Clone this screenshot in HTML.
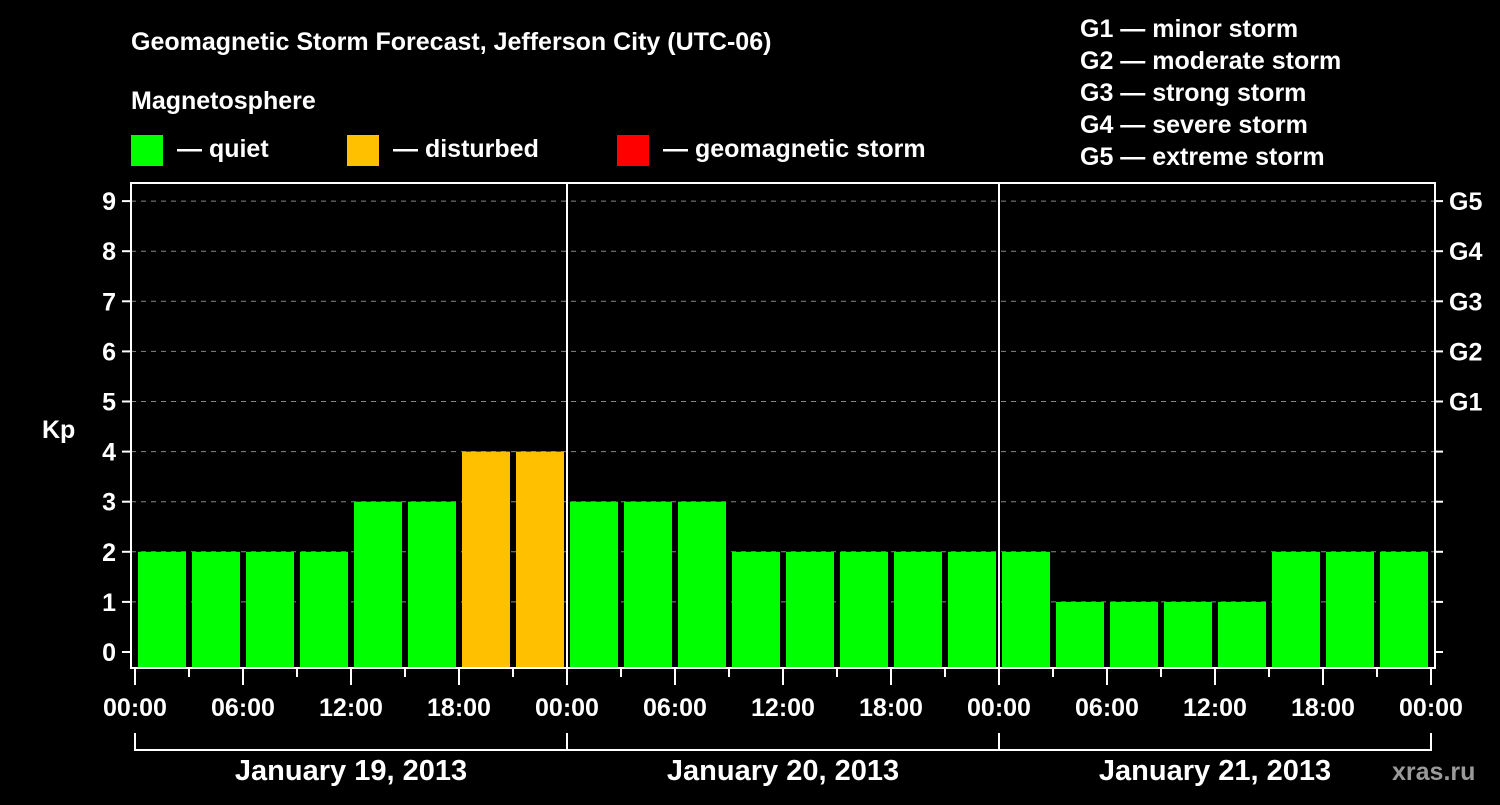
<!DOCTYPE html>
<html><head><meta charset="utf-8"><style>
body{margin:0;background:#000;width:1500px;height:800px;overflow:hidden}
svg text{font-family:"Liberation Sans",Arial,sans-serif;font-weight:bold;fill:#fff}
</style></head><body>
<svg id="c" width="1500" height="800" xmlns="http://www.w3.org/2000/svg">
<text x="131" y="50" font-size="25">Geomagnetic Storm Forecast, Jefferson City (UTC-06)</text>
<text x="131" y="109" font-size="25">Magnetosphere</text>
<g>
<rect x="131" y="135" width="32" height="31" fill="#00ff00"/>
<text x="177" y="157" font-size="25">— quiet</text>
<rect x="347" y="135" width="32" height="31" fill="#ffc000"/>
<text x="393" y="157" font-size="25">— disturbed</text>
<rect x="617" y="135" width="32" height="31" fill="#ff0000"/>
<text x="663" y="157" font-size="25">— geomagnetic storm</text>
</g>
<g font-size="25">
<text x="1080" y="37">G1 — minor storm</text>
<text x="1080" y="69">G2 — moderate storm</text>
<text x="1080" y="101">G3 — strong storm</text>
<text x="1080" y="133">G4 — severe storm</text>
<text x="1080" y="165">G5 — extreme storm</text>
</g>
<g id="plot"></g>
<text x="1392" y="780" font-size="25" fill="#999" style="fill:#9a9a9a">xras.ru</text>
</svg>
<script>
const kpValues=[2,2,2,2,3,3,4,4,3,3,3,2,2,2,2,2,2,1,1,1,1,2,2,2];
const yTicks=[0,1,2,3,4,5,6,7,8,9];
const gLabels=["G1","G2","G3","G4","G5"];
const gLevels=[5,6,7,8,9];
const xLabels=["00:00","06:00","12:00","18:00","00:00","06:00","12:00","18:00","00:00","06:00","12:00","18:00","00:00"];
const dayLabels=["January 19, 2013","January 20, 2013","January 21, 2013"];
const NS="http://www.w3.org/2000/svg";
const g=document.getElementById('plot');
const L=131,R=1435,T=183,B=668,X0=135,slot=54;
const y=v=>652-v*50.1;
const x=i=>X0+i*slot;
function el(t,a,txt){const e=document.createElementNS(NS,t);for(const k in a)e.setAttribute(k,a[k]);if(txt!==undefined)e.textContent=txt;g.appendChild(e);return e;}
yTicks.forEach(v=>{
  if(v>0){const l=el('line',{x1:L,x2:R,y1:y(v),y2:y(v),stroke:'#888','stroke-dasharray':'5,5','stroke-width':1});
  
  }
  const t=el('line',{x1:122,x2:L,y1:y(v),y2:y(v),stroke:'#fff','stroke-width':2});
  
  
  const t2=el('line',{x1:R,x2:1443,y1:y(v),y2:y(v),stroke:'#fff','stroke-width':2});
  
  
  const lb=el('text',{x:116,y:y(v)+9,'font-size':25,'text-anchor':'end'},v);
  
  
});
gLabels.forEach((s,i)=>{
  const t=el('text',{x:1449,y:y(gLevels[i])+9,'font-size':25},s);
  
  
});
kpValues.forEach((v,i)=>{
  const c=v>=5?'#ff0000':(v>=4?'#ffc000':'#00ff00');
  const b=el('rect',{x:x(i)+3,y:y(v),width:48,height:B-y(v),fill:c});
  
  
});
[1,2].forEach(d=>{const l=el('line',{x1:x(d*8),x2:x(d*8),y1:T,y2:B,stroke:'#fff','stroke-width':2});
  
  });
const fr=el('rect',{x:L,y:T,width:R-L,height:B-T,fill:'none',stroke:'#fff','stroke-width':2});


for(let i=0;i<=24;i++){
  const t=el('line',{x1:x(i),x2:x(i),y1:B,y2:i%2==0?685:677,stroke:'#fff','stroke-width':2});
  
  
}
xLabels.forEach((s,i)=>{
  const t=el('text',{x:x(i*2),y:716,'font-size':25,'text-anchor':'middle'},s);
  
  
});
const br=el('path',{d:`M${x(0)},733V750H${x(24)}V733M${x(8)},733V750M${x(16)},733V750`,fill:'none',stroke:'#fff','stroke-width':2});


dayLabels.forEach((s,i)=>{
  const t=el('text',{x:x(i*8+4),y:780,'font-size':29,'text-anchor':'middle'},s);
  
  
});
const yl=el('text',{x:42,y:438,'font-size':25},'Kp');


</script>
</body></html>
